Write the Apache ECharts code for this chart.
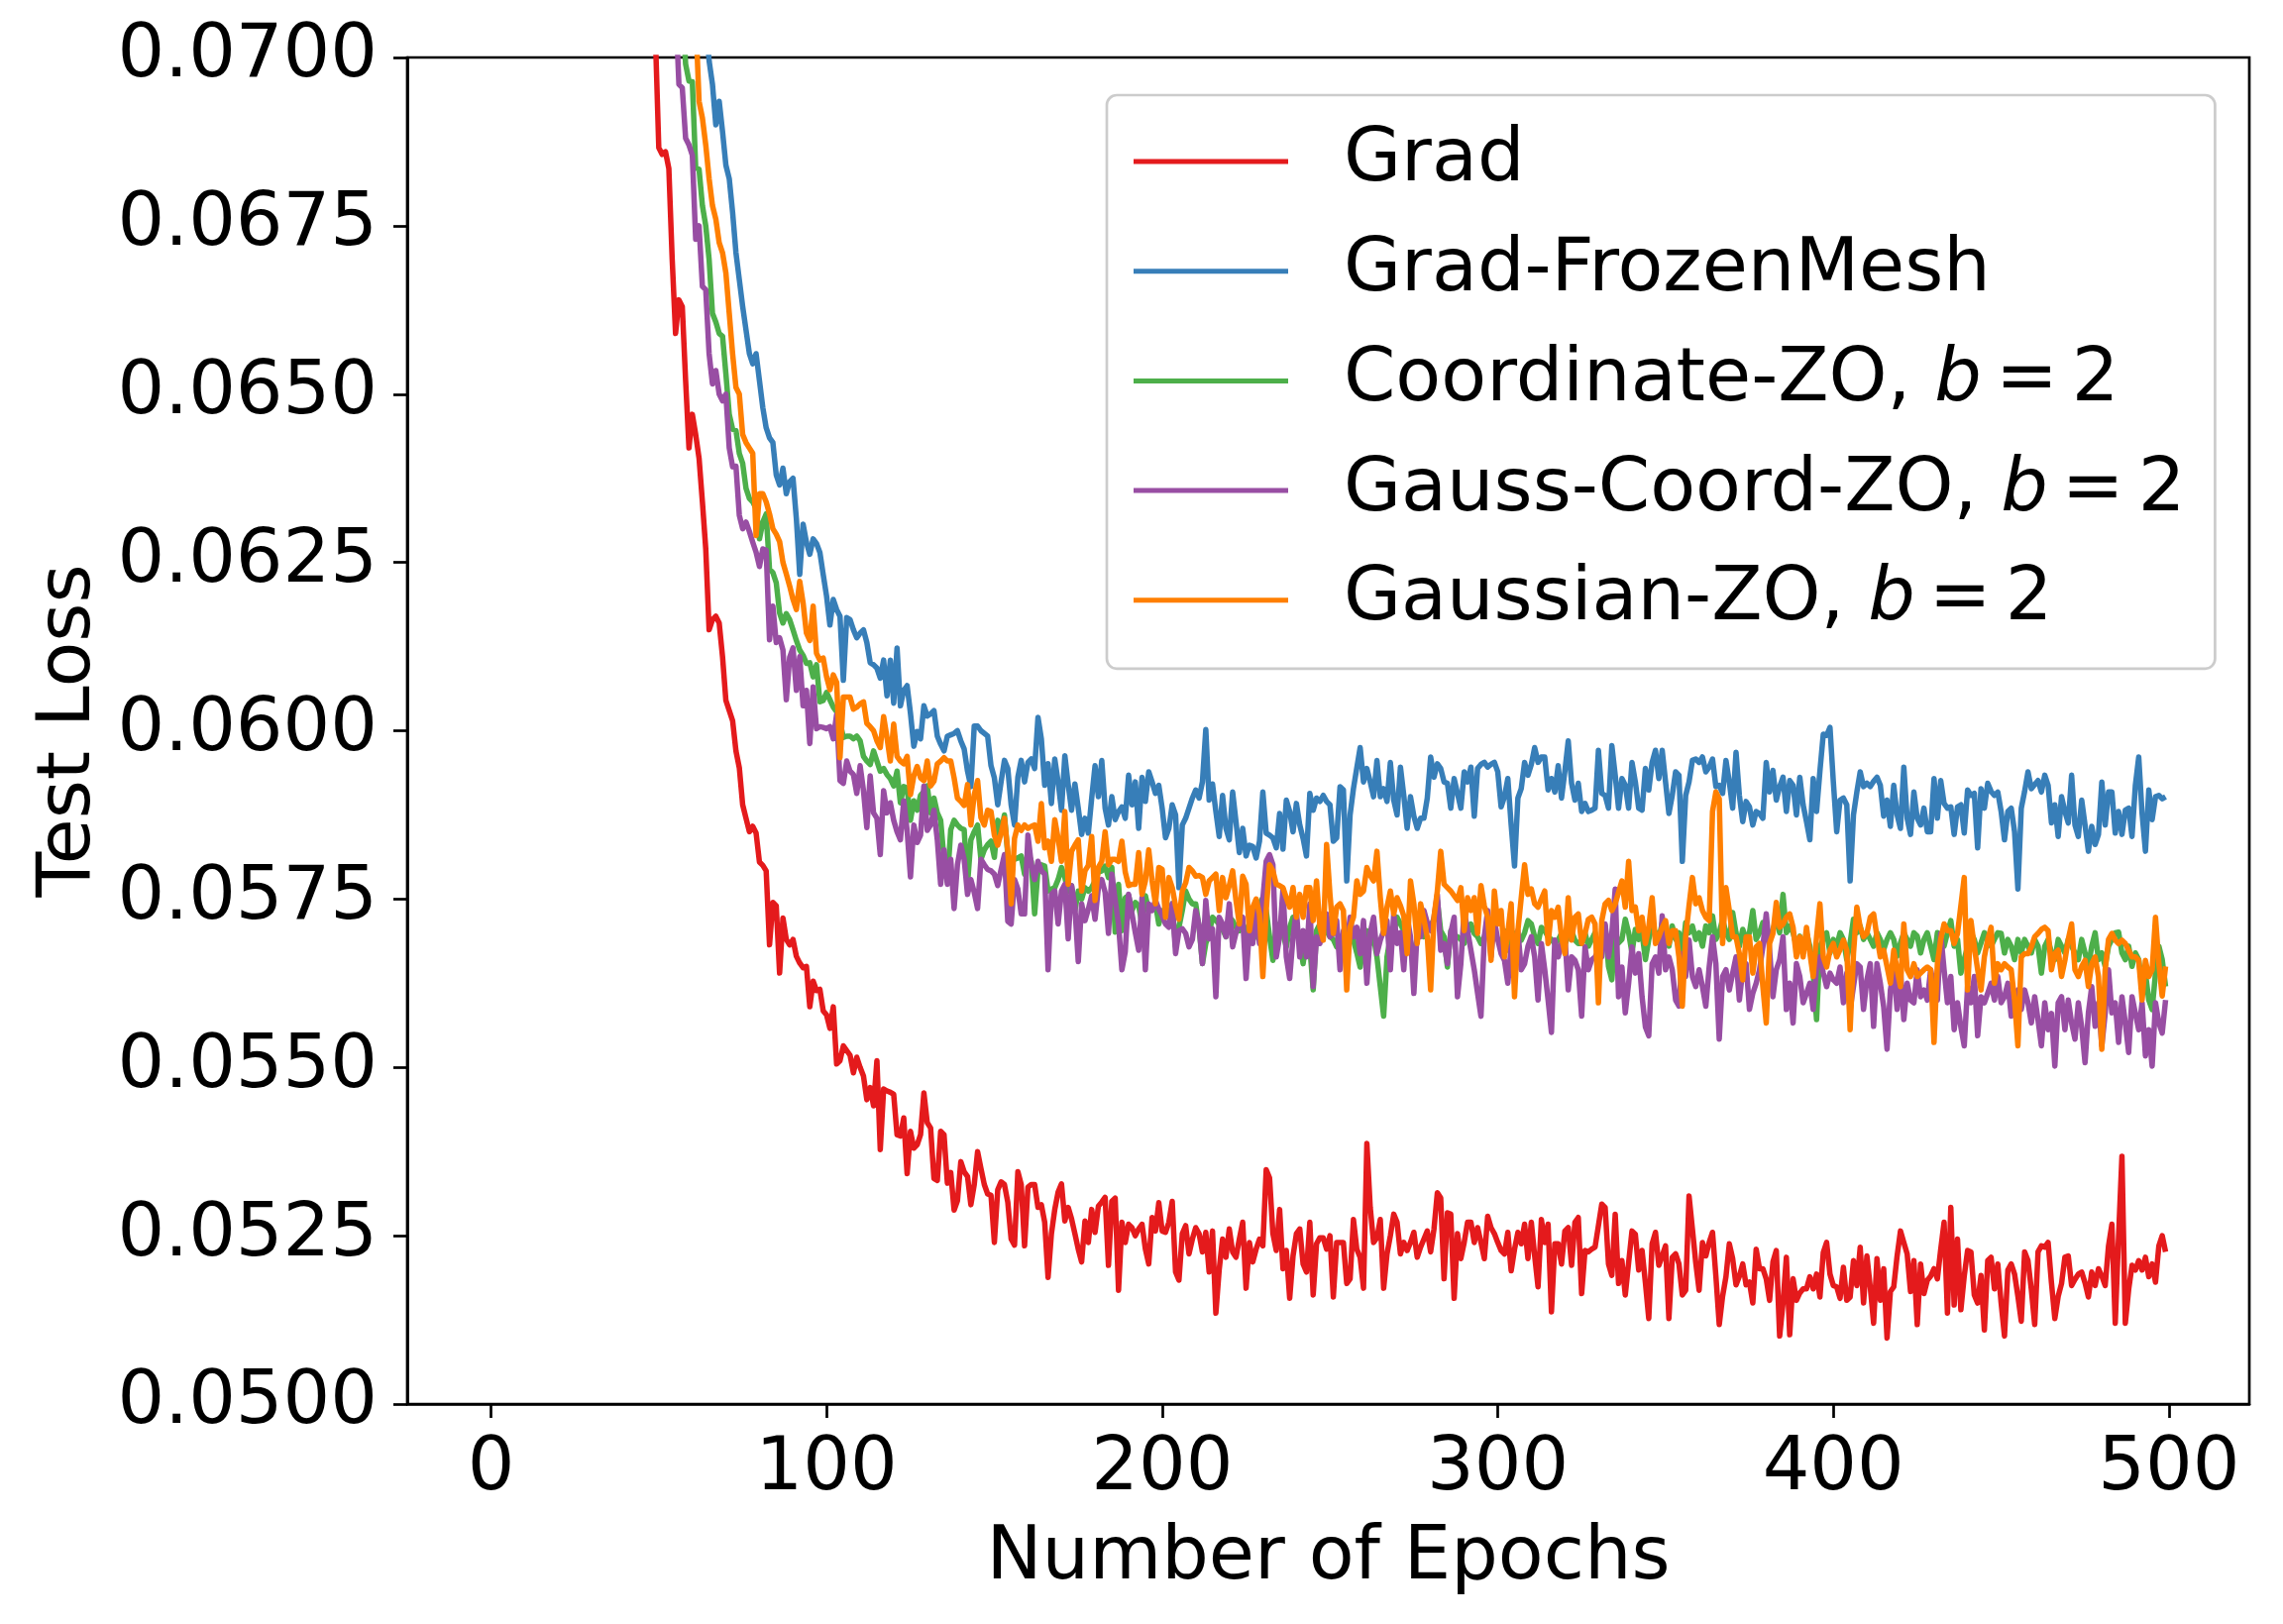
<!DOCTYPE html>
<html>
<head>
<meta charset="utf-8">
<script src="https://cdn.jsdelivr.net/npm/echarts@6/dist/echarts.min.js"></script>
<style>
  html, body { margin: 0; padding: 0; background: #fff; }
  #chart { width: 2304px; height: 1639px; }
</style>
</head>
<body>
<div id="chart"></div>
<script>
// test loss per epoch, in units of 1e-5 (5226 -> 0.05226); each list starts at its *Start epoch
const xTicks = [0, 100, 200, 300, 400, 500]

const gradStart = 48
const gradLoss = [
  7450, 7030,
  6866, 6856, 6860, 6835, 6700, 6590, 6640, 6630, 6520, 6420,
  6470, 6440, 6405, 6340, 6270, 6150, 6165, 6170, 6160, 6110,
  6045, 6030, 6015, 5970, 5945, 5890, 5870, 5850, 5858, 5848,
  5805, 5800, 5792, 5682, 5745, 5740, 5640, 5722, 5690, 5682,
  5690, 5665, 5655, 5648, 5650, 5590, 5628, 5614, 5616, 5584,
  5578, 5558, 5590, 5505, 5510, 5532, 5525, 5518, 5492, 5515,
  5500, 5487, 5452, 5470, 5443, 5510, 5378, 5468, 5465, 5463,
  5460, 5400, 5398, 5425, 5342, 5405, 5380, 5385, 5400, 5462,
  5418, 5410, 5335, 5332, 5405, 5400, 5328, 5344, 5288, 5302,
  5360, 5345, 5338, 5296, 5326, 5375, 5350, 5326, 5312, 5310,
  5240, 5318, 5330, 5326, 5300, 5245, 5236, 5345, 5326, 5235,
  5322, 5326, 5326, 5292, 5296, 5270, 5188, 5253, 5289, 5315,
  5327, 5272, 5292, 5275, 5253, 5230, 5211, 5272, 5240, 5289,
  5255, 5294, 5300, 5307, 5206, 5301, 5306, 5169, 5270, 5240,
  5267, 5262, 5250, 5260, 5267, 5230, 5208, 5277, 5257, 5299,
  5257, 5255, 5270, 5301, 5196, 5184, 5253, 5265, 5223, 5245,
  5262, 5253, 5226, 5255, 5196, 5257, 5135, 5200, 5245, 5218,
  5260, 5226, 5218, 5245, 5270, 5172, 5240, 5211, 5230, 5245,
  5235, 5348, 5336, 5253, 5228, 5289, 5201, 5228, 5157, 5220,
  5253, 5260, 5208, 5196, 5270, 5162, 5238, 5247, 5247, 5230,
  5250, 5159, 5240, 5240, 5240, 5179, 5186, 5274, 5230, 5218,
  5172, 5387, 5292, 5240, 5247, 5274, 5172, 5223, 5250, 5282,
  5270, 5223, 5240, 5228, 5240, 5255, 5218, 5233, 5245, 5257,
  5226, 5260, 5314, 5306, 5186, 5284, 5282, 5157, 5253, 5216,
  5240, 5270, 5270, 5240, 5262, 5240, 5216, 5279, 5262, 5253,
  5240, 5228, 5223, 5255, 5198, 5230, 5255, 5238, 5267, 5216,
  5270, 5220, 5174, 5274, 5240, 5267, 5137, 5238, 5238, 5208,
  5257, 5262, 5206, 5270, 5277, 5164, 5228, 5226, 5230, 5233,
  5265, 5297, 5292, 5208, 5191, 5282, 5179, 5213, 5162, 5210,
  5257, 5252, 5199, 5228, 5180, 5127, 5238, 5255, 5206, 5220,
  5235, 5127, 5218, 5223, 5208, 5162, 5169, 5309, 5260, 5210,
  5169, 5240, 5220, 5240, 5255, 5190, 5118, 5160, 5189, 5238,
  5216, 5177, 5190, 5208, 5177, 5181, 5150, 5230, 5201, 5201,
  5186, 5154, 5211, 5228, 5101, 5150, 5218, 5103, 5186, 5154,
  5165, 5171, 5171, 5189, 5171, 5193, 5159, 5225, 5240, 5193,
  5176, 5174, 5157, 5203, 5154, 5159, 5213, 5176, 5233, 5150,
  5220, 5174, 5120, 5216, 5154, 5201, 5098, 5167, 5174, 5220,
  5257, 5240, 5223, 5167, 5213, 5118, 5208, 5164, 5184, 5190,
  5201, 5186, 5230, 5270, 5135, 5292, 5147, 5245, 5140, 5190,
  5228, 5226, 5162, 5150, 5191, 5110, 5213, 5218, 5171, 5208,
  5150, 5101, 5199, 5208, 5193, 5160, 5123, 5226, 5213, 5170,
  5118, 5226, 5235, 5233, 5240, 5180, 5127, 5160, 5179, 5218,
  5220, 5176, 5185, 5193, 5196, 5180, 5159, 5196, 5176, 5201,
  5190, 5176, 5235, 5267, 5120, 5250, 5368, 5120, 5170, 5206,
  5199, 5213, 5199, 5218, 5189, 5208, 5181, 5235, 5250, 5226
]

const frozenMeshStart = 63
const frozenMeshLoss = [
  7200, 7060, 6995, 6960, 6900, 6935, 6890,
  6840, 6820, 6770, 6710, 6670, 6630, 6595, 6560, 6545, 6560,
  6520, 6480, 6450, 6435, 6428, 6380, 6365, 6390, 6352, 6370,
  6375, 6315, 6232, 6307, 6280, 6262, 6285, 6278, 6265, 6232,
  6200, 6157, 6195, 6180, 6170, 6075, 6168, 6165, 6150, 6138,
  6145, 6150, 6131, 6101, 6098, 6093, 6078, 6105, 6052, 6105,
  6041, 6123, 6037, 6060, 6067, 6026, 5977, 5999, 5988, 6037,
  6022, 6025, 6030, 5992, 5980, 5970, 5992, 5994, 5996, 6000,
  5985, 5973, 5940, 5917, 6007, 6007, 6000, 5996, 5992, 5948,
  5930, 5890, 5924, 5956, 5944, 5890, 5860, 5931, 5956, 5924,
  5953, 5958, 5944, 6020, 5988, 5919, 5951, 5892, 5958, 5924,
  5882, 5963, 5920, 5882, 5921, 5885, 5846, 5870, 5848, 5900,
  5948, 5902, 5956, 5885, 5860, 5902, 5868, 5880, 5887, 5870,
  5934, 5890, 5924, 5855, 5931, 5895, 5939, 5924, 5907, 5919,
  5885, 5841, 5855, 5890, 5875, 5767, 5860, 5870, 5885, 5900,
  5912, 5900, 5924, 6002, 5897, 5921, 5880, 5843, 5904, 5855,
  5838, 5909, 5865, 5819, 5855, 5814, 5830, 5828, 5811, 5836,
  5909, 5848, 5845, 5841, 5826, 5877, 5824, 5897, 5880, 5850,
  5892, 5860, 5840, 5814, 5907, 5882, 5900, 5895, 5904, 5895,
  5890, 5836, 5841, 5917, 5912, 5777, 5875, 5914, 5945, 5975,
  5924, 5944, 5924, 5902, 5956, 5902, 5914, 5895, 5953, 5897,
  5875, 5946, 5904, 5855, 5902, 5873, 5855, 5870, 5870, 5900,
  5961, 5931, 5951, 5944, 5924, 5922, 5885, 5929, 5907, 5885,
  5939, 5924, 5946, 5873, 5944, 5950, 5953, 5946, 5950, 5953,
  5939, 5887, 5902, 5929, 5860, 5799, 5900, 5914, 5953, 5934,
  5950, 5975, 5953, 5961, 5961, 5912, 5929, 5909, 5948, 5900,
  5940, 5985, 5922, 5897, 5922, 5880, 5892, 5880, 5882, 5885,
  5971, 5907, 5904, 5885, 5978, 5934, 5885, 5929, 5919, 5885,
  5953, 5924, 5885, 5882, 5944, 5912, 5953, 5971, 5929, 5971,
  5924, 5877, 5904, 5939, 5934, 5806, 5904, 5924, 5956, 5958,
  5953, 5961, 5939, 5946, 5958, 5917, 5919, 5907, 5956, 5924,
  5885, 5968, 5904, 5865, 5895, 5887, 5860, 5880, 5877, 5870,
  5953, 5909, 5941, 5897, 5917, 5931, 5880, 5926, 5919, 5875,
  5931, 5890, 5865, 5838, 5929, 5880, 5940, 5995, 5993, 6005,
  5924, 5850, 5897, 5900, 5890, 5777, 5875, 5909, 5939, 5917,
  5922, 5917, 5925, 5931, 5919, 5873, 5897, 5858, 5919, 5875,
  5855, 5946, 5870, 5846, 5909, 5870, 5860, 5885, 5850, 5850,
  5929, 5870, 5926, 5892, 5885, 5887, 5846, 5887, 5890, 5848,
  5912, 5904, 5907, 5826, 5914, 5885, 5922, 5910, 5904, 5909,
  5880, 5838, 5880, 5885, 5850, 5765, 5885, 5910, 5939, 5914,
  5920, 5926, 5909, 5934, 5919, 5863, 5890, 5843, 5902, 5880,
  5863, 5934, 5860, 5843, 5897, 5860, 5821, 5858, 5831, 5846,
  5924, 5860, 5909, 5909, 5848, 5880, 5846, 5882, 5885, 5843,
  5919, 5961, 5877, 5821, 5912, 5868, 5902, 5904, 5899, 5902
]

const coordZoStart = 56
const coordZoLoss = [
  7300, 7080, 6990, 6965,
  6964, 6836, 6834, 6780, 6750, 6700, 6620, 6607, 6590, 6586,
  6530, 6470, 6448, 6446, 6412, 6397, 6360, 6345, 6340, 6330,
  6285, 6310, 6322, 6240, 6235, 6220, 6175, 6160, 6174, 6165,
  6150, 6134, 6120, 6112, 6100, 6101, 6080, 6098, 6043, 6045,
  6057, 6046, 6035, 6028, 6013, 5990, 5992, 5992, 5988, 5992,
  5985, 5962, 5955, 5950, 5970, 5955, 5940, 5944, 5935, 5929,
  5918, 5940, 5893, 5917, 5915, 5867, 5896, 5882, 5904, 5910,
  5918, 5878, 5900, 5878, 5867, 5809, 5776, 5853, 5867, 5860,
  5855, 5853, 5772, 5838, 5850, 5860, 5809, 5823, 5831, 5836,
  5812, 5867, 5850, 5875, 5816, 5806, 5809, 5811, 5814, 5787,
  5820, 5806, 5728, 5794, 5801, 5799, 5762, 5765, 5767, 5779,
  5797, 5782, 5761, 5770, 5733, 5762, 5750, 5767, 5762, 5767,
  5777, 5790, 5792, 5799, 5782, 5797, 5701, 5772, 5703, 5752,
  5755, 5733, 5745, 5740, 5713, 5755, 5733, 5738, 5743, 5713,
  5733, 5728, 5723, 5743, 5679, 5708, 5733, 5762, 5750, 5743,
  5743, 5708, 5654, 5684, 5699, 5723, 5718, 5713, 5705, 5694,
  5723, 5718, 5708, 5703, 5713, 5703, 5695, 5689, 5699, 5743,
  5752, 5733, 5694, 5659, 5713, 5705, 5699, 5679, 5708, 5723,
  5713, 5689, 5654, 5694, 5680, 5615, 5703, 5713, 5718, 5703,
  5694, 5690, 5679, 5694, 5664, 5684, 5699, 5689, 5670, 5649,
  5684, 5703, 5684, 5694, 5664, 5620, 5576, 5664, 5694, 5699,
  5723, 5713, 5703, 5708, 5684, 5664, 5694, 5703, 5694, 5708,
  5712, 5718, 5748, 5703, 5694, 5649, 5703, 5689, 5694, 5690,
  5684, 5699, 5713, 5699, 5694, 5684, 5694, 5708, 5699, 5694,
  5690, 5684, 5703, 5674, 5694, 5699, 5694, 5689, 5700, 5718,
  5713, 5694, 5684, 5708, 5703, 5694, 5690, 5684, 5689, 5699,
  5684, 5694, 5703, 5689, 5684, 5684, 5700, 5680, 5690, 5700,
  5675, 5690, 5710, 5650, 5630, 5700, 5685, 5690, 5720, 5700,
  5670, 5705, 5690, 5700, 5660, 5690, 5710, 5700, 5690, 5715,
  5700, 5680, 5710, 5690, 5700, 5670, 5715, 5700, 5710, 5690,
  5700, 5680, 5710, 5700, 5725, 5690, 5700, 5720, 5700, 5690,
  5730, 5700, 5680, 5705, 5690, 5700, 5733, 5690, 5700, 5715,
  5700, 5690, 5705, 5720, 5700, 5757, 5700, 5710, 5700, 5680,
  5695, 5670, 5700, 5680, 5640, 5571, 5680, 5690, 5700, 5670,
  5690, 5680, 5700, 5690, 5660, 5685, 5720, 5700, 5710, 5690,
  5700, 5690, 5680, 5700, 5690, 5675, 5690, 5700, 5690, 5665,
  5685, 5700, 5690, 5680, 5700, 5695, 5670, 5690, 5700, 5680,
  5660, 5700, 5690, 5680, 5700, 5718, 5680, 5690, 5640, 5660,
  5680, 5700, 5690, 5670, 5685, 5700, 5690, 5680, 5690, 5700,
  5699, 5670, 5690, 5680, 5660, 5690, 5670, 5690, 5680, 5670,
  5690, 5680, 5640, 5680, 5690, 5670, 5660, 5690, 5680, 5670,
  5690, 5680, 5670, 5660, 5690, 5670, 5650, 5680, 5700, 5660,
  5670, 5650, 5680, 5690, 5700, 5701, 5670, 5660, 5680, 5650,
  5670, 5660, 5620, 5640, 5600, 5586, 5640, 5680, 5660, 5620
]

const gaussCoordStart = 54
const gaussCoordLoss = [
  7300, 7080, 6960, 6955, 6880, 6870,
  6855, 6730, 6750, 6660, 6655, 6560, 6515, 6535, 6500, 6490,
  6500, 6420, 6392, 6393, 6320, 6300, 6310, 6296, 6280, 6265,
  6244, 6270, 6268, 6135, 6185, 6131, 6138, 6120, 6046, 6109,
  6123, 6060, 6110, 6037, 6060, 5981, 6065, 6003, 6006, 6005,
  6003, 6006, 5988, 6024, 5926, 5922, 5955, 5940, 5935, 5907,
  5948, 5911, 5856, 5933, 5878, 5870, 5816, 5911, 5878, 5893,
  5867, 5850, 5838, 5896, 5852, 5783, 5860, 5834, 5845, 5918,
  5852, 5860, 5882, 5838, 5772, 5823, 5772, 5809, 5736, 5801,
  5830, 5809, 5757, 5779, 5760, 5736, 5809, 5801, 5794, 5792,
  5787, 5770, 5794, 5816, 5717, 5713, 5779, 5765, 5728, 5728,
  5845, 5802, 5779, 5806, 5792, 5787, 5645, 5757, 5762, 5713,
  5762, 5772, 5691, 5770, 5738, 5657, 5743, 5718, 5735, 5755,
  5720, 5767, 5779, 5760, 5699, 5787, 5748, 5713, 5645, 5672,
  5757, 5728, 5700, 5674, 5752, 5645, 5743, 5733, 5748, 5735,
  5725, 5713, 5708, 5743, 5669, 5703, 5706, 5699, 5679, 5690,
  5733, 5711, 5654, 5748, 5691, 5706, 5605, 5723, 5713, 5694,
  5743, 5679, 5700, 5713, 5723, 5632, 5706, 5684, 5743, 5684,
  5750, 5806, 5816, 5801, 5664, 5694, 5765, 5664, 5632, 5694,
  5733, 5664, 5703, 5664, 5743, 5620, 5694, 5684, 5708, 5728,
  5694, 5699, 5718, 5645, 5703, 5680, 5723, 5694, 5708, 5669,
  5718, 5625, 5700, 5723, 5669, 5689, 5703, 5718, 5645, 5728,
  5684, 5700, 5645, 5723, 5694, 5610, 5703, 5694, 5733, 5715,
  5703, 5723, 5757, 5674, 5684, 5654, 5700, 5723, 5605, 5654,
  5733, 5703, 5674, 5645, 5610, 5576, 5694, 5733, 5664, 5718,
  5690, 5669, 5659, 5625, 5679, 5664, 5703, 5645, 5654, 5680,
  5694, 5664, 5600, 5684, 5645, 5600, 5552, 5689, 5664, 5684,
  5694, 5615, 5664, 5659, 5645, 5576, 5679, 5645, 5660, 5664,
  5674, 5664, 5713, 5664, 5700, 5765, 5605, 5649, 5581, 5625,
  5679, 5640, 5669, 5605, 5560, 5547, 5654, 5664, 5640, 5725,
  5645, 5664, 5645, 5600, 5591, 5669, 5635, 5689, 5635, 5620,
  5645, 5620, 5591, 5649, 5694, 5654, 5542, 5635, 5645, 5615,
  5640, 5664, 5600, 5645, 5654, 5586, 5610, 5625, 5645, 5679,
  5728, 5674, 5605, 5645, 5660, 5694, 5586, 5625, 5566, 5654,
  5635, 5596, 5610, 5625, 5586, 5649, 5664, 5640, 5620, 5640,
  5630, 5625, 5649, 5596, 5640, 5586, 5620, 5654, 5649, 5586,
  5630, 5654, 5561, 5654, 5625, 5590, 5527, 5615, 5645, 5586,
  5645, 5571, 5625, 5600, 5596, 5645, 5605, 5615, 5600, 5645,
  5620, 5600, 5699, 5645, 5596, 5635, 5556, 5596, 5560, 5532,
  5620, 5596, 5635, 5547, 5605, 5596, 5610, 5625, 5600, 5635,
  5596, 5605, 5625, 5576, 5600, 5615, 5586, 5615, 5596, 5566,
  5605, 5570, 5532, 5596, 5556, 5580, 5502, 5596, 5605, 5556,
  5600, 5566, 5542, 5596, 5560, 5507, 5581, 5620, 5561, 5596,
  5532, 5580, 5645, 5581, 5596, 5537, 5605, 5566, 5522, 5605,
  5580, 5556, 5596, 5517, 5556, 5502, 5596, 5566, 5551, 5600
]

const gaussianStart = 60
const gaussianLoss = [
  7300, 7060, 6935, 6910, 6870, 6820, 6780, 6760, 6725, 6710,
  6680, 6620, 6560, 6510, 6500, 6440, 6428, 6420, 6412, 6290,
  6352, 6352, 6340, 6322, 6300, 6292, 6281, 6250, 6233, 6215,
  6195, 6180, 6222, 6190, 6145, 6134, 6185, 6115, 6105, 6108,
  6080, 6061, 6083, 6072, 5960, 6050, 6050, 6050, 6032, 6035,
  6040, 6043, 6011, 6006, 6000, 5985, 5975, 6021, 5990, 5955,
  6010, 5962, 5955, 5951, 5962, 5905, 5933, 5947, 5930, 5926,
  5955, 5918, 5925, 5951, 5955, 5960, 5955, 5955, 5930, 5900,
  5895, 5889, 5920, 5860, 5905, 5926, 5871, 5860, 5882, 5880,
  5845, 5830, 5848, 5870, 5821, 5743, 5840, 5860, 5852, 5860,
  5855, 5858, 5860, 5836, 5892, 5826, 5836, 5806, 5868, 5840,
  5806, 5880, 5772, 5821, 5830, 5838, 5762, 5792, 5800, 5843,
  5748, 5797, 5806, 5850, 5801, 5809, 5809, 5806, 5836, 5790,
  5770, 5772, 5772, 5819, 5757, 5777, 5823, 5777, 5743, 5797,
  5794, 5723, 5782, 5767, 5740, 5720, 5762, 5774, 5797, 5792,
  5784, 5785, 5782, 5757, 5777, 5782, 5787, 5733, 5782, 5752,
  5770, 5792, 5748, 5713, 5784, 5772, 5703, 5738, 5750, 5728,
  5635, 5733, 5801, 5792, 5772, 5770, 5767, 5752, 5738, 5767,
  5723, 5757, 5723, 5767, 5767, 5718, 5777, 5708, 5689, 5831,
  5757, 5699, 5738, 5743, 5733, 5615, 5708, 5723, 5777, 5757,
  5762, 5797, 5785, 5777, 5821, 5752, 5699, 5738, 5762, 5728,
  5752, 5740, 5725, 5669, 5777, 5743, 5684, 5743, 5720, 5694,
  5615, 5723, 5762, 5821, 5772, 5767, 5762, 5755, 5748, 5767,
  5703, 5752, 5733, 5752, 5699, 5770, 5740, 5723, 5659, 5762,
  5713, 5733, 5664, 5700, 5743, 5605, 5703, 5752, 5801, 5757,
  5765, 5743, 5738, 5750, 5762, 5684, 5733, 5723, 5738, 5694,
  5669, 5752, 5689, 5723, 5728, 5684, 5699, 5720, 5723, 5713,
  5596, 5718, 5743, 5748, 5733, 5743, 5760, 5777, 5738, 5806,
  5733, 5738, 5703, 5723, 5684, 5708, 5752, 5684, 5694, 5708,
  5718, 5684, 5703, 5703, 5664, 5591, 5694, 5740, 5782, 5743,
  5752, 5733, 5723, 5718, 5880, 5909, 5899, 5684, 5767, 5733,
  5694, 5694, 5669, 5630, 5694, 5694, 5640, 5679, 5684, 5620,
  5566, 5684, 5699, 5745, 5708, 5713, 5723, 5728, 5708, 5664,
  5694, 5664, 5708, 5670, 5635, 5694, 5743, 5664, 5649, 5674,
  5684, 5664, 5675, 5689, 5674, 5556, 5669, 5738, 5708, 5694,
  5699, 5723, 5728, 5694, 5664, 5674, 5650, 5625, 5674, 5645,
  5620, 5713, 5645, 5635, 5654, 5635, 5640, 5645, 5649, 5645,
  5537, 5654, 5690, 5713, 5703, 5703, 5684, 5699, 5740, 5782,
  5615, 5718, 5679, 5645, 5615, 5664, 5690, 5708, 5625, 5654,
  5645, 5654, 5649, 5645, 5600, 5532, 5664, 5669, 5669, 5679,
  5694, 5699, 5705, 5708, 5703, 5645, 5669, 5674, 5635, 5659,
  5690, 5713, 5645, 5635, 5650, 5659, 5620, 5654, 5664, 5635,
  5527, 5645, 5690, 5699, 5689, 5684, 5689, 5684, 5674, 5664,
  5664, 5659, 5600, 5659, 5635, 5645, 5723, 5654, 5606, 5650
]

const FONT = '"DejaVu Sans", sans-serif'

function toPoints (start, values) {
  return values.map((v, i) => [start + i, v / 1e5])
}

function lineSeries (name, color, start, values) {
  return {
    name: name,
    type: 'line',
    data: toPoints(start, values),
    showSymbol: false,
    symbol: 'none',
    clip: true,
    color: color,
    lineStyle: { color: color, width: 5.5, cap: 'butt', join: 'round' },
    emphasis: { disabled: true }
  }
}

const chart = echarts.init(document.getElementById('chart'), null, { renderer: 'canvas' })

chart.setOption({
  animation: false,
  backgroundColor: '#ffffff',
  grid: {
    left: 411, right: 34, top: 58, bottom: 222,
    show: true, borderColor: '#000', borderWidth: 2.7, backgroundColor: 'transparent'
  },
  xAxis: {
    type: 'value',
    min: -24.95,
    max: 523.95,
    name: 'Number of Epochs',
    nameLocation: 'middle',
    nameGap: 119,
    nameTextStyle: { fontFamily: FONT, fontSize: 75, color: '#000' },
    axisLine: { show: true, onZero: false, lineStyle: { color: '#000', width: 2.7 } },
    axisTick: { show: true, length: 14, customValues: xTicks, lineStyle: { color: '#000', width: 2.7 } },
    axisLabel: { customValues: xTicks, fontFamily: FONT, fontSize: 75, color: '#000', margin: 29 },
    splitLine: { show: false }
  },
  yAxis: {
    type: 'value',
    min: 0.05,
    max: 0.07,
    interval: 0.0025,
    name: 'Test Loss',
    nameLocation: 'middle',
    nameRotate: 90,
    nameGap: 300,
    nameTextStyle: { fontFamily: FONT, fontSize: 75, color: '#000' },
    axisLine: { show: true, onZero: false, lineStyle: { color: '#000', width: 2.7 } },
    axisTick: { show: true, length: 14, lineStyle: { color: '#000', width: 2.7 } },
    axisLabel: {
      fontFamily: FONT, fontSize: 75, color: '#000', margin: 30,
      formatter: v => v.toFixed(4)
    },
    splitLine: { show: false }
  },
  legend: {
    orient: 'vertical',
    left: 1117,
    top: 96,
    padding: [22, 30, 24, 27],
    icon: 'rect',
    itemWidth: 156,
    itemHeight: 5,
    itemGap: 20.7,
    selectedMode: false,
    backgroundColor: 'rgba(255,255,255,0.8)',
    borderColor: '#cccccc',
    borderWidth: 2.7,
    borderRadius: 10,
    textStyle: {
      fontFamily: FONT, fontSize: 75, color: '#000', lineHeight: 90,
      rich: {
        gap: { width: 51 },
        sp: { width: 14 },
        t: { fontFamily: FONT, fontSize: 75, color: '#000', lineHeight: 90 },
        i: { fontFamily: FONT, fontSize: 75, color: '#000', lineHeight: 90, fontStyle: 'italic' }
      }
    },
    formatter: name => {
      const parts = name.split(', b = ')
      if (parts.length === 2) {
        return '{gap|}{t|' + parts[0] + ', }{i|b}{sp|}{t|=}{sp|}{t|' + parts[1] + '}'
      }
      return '{gap|}{t|' + name + '}'
    }
  },
  series: [
    lineSeries('Grad', '#e41a1c', gradStart, gradLoss),
    lineSeries('Grad-FrozenMesh', '#377eb8', frozenMeshStart, frozenMeshLoss),
    lineSeries('Coordinate-ZO, b = 2', '#4daf4a', coordZoStart, coordZoLoss),
    lineSeries('Gauss-Coord-ZO, b = 2', '#984ea3', gaussCoordStart, gaussCoordLoss),
    lineSeries('Gaussian-ZO, b = 2', '#ff7f00', gaussianStart, gaussianLoss)
  ]
})
</script>
</body>
</html>
